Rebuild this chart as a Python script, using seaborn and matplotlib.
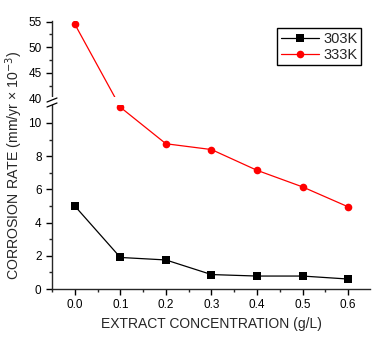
import numpy as np
import pandas as pd
import seaborn as sns
import matplotlib.pyplot as plt
from matplotlib.lines import Line2D
from matplotlib.ticker import MultipleLocator, FixedLocator

conc = [0.0, 0.1, 0.2, 0.3, 0.4, 0.5, 0.6]
rate_303 = [5.0, 1.9, 1.75, 0.87, 0.78, 0.78, 0.6]
rate_333 = [54.5, 10.95, 8.75, 8.4, 7.15, 6.15, 4.95]

df = pd.DataFrame({
    'conc': conc * 2,
    'rate': rate_303 + rate_333,
    'temp': ['303K'] * len(conc) + ['333K'] * len(conc),
})

# broken y axis: 0..Y1 below the break, Y2..top above, upper part squeezed
Y1, Y2 = 11.07, 39.7
G = 11.37      # where the upper part starts in scaled units
K = 0.31       # squeeze of the upper part


def fwd(y):
    y = np.asarray(y, dtype=float)
    mid = Y1 + (y - Y1) * (G - Y1) / (Y2 - Y1)
    return np.where(y <= Y1, y, np.where(y >= Y2, G + (y - Y2) * K, mid))


def inv(v):
    v = np.asarray(v, dtype=float)
    mid = Y1 + (v - Y1) * (Y2 - Y1) / (G - Y1)
    return np.where(v <= Y1, v, np.where(v >= G, Y2 + (v - G) / K, mid))


sns.set_style("ticks")
plt.rcParams['font.family'] = ['Liberation Sans', 'DejaVu Sans']

colors = {'303K': 'black', '333K': 'red'}
markers = {'303K': 's', '333K': 'o'}

W, H = 384, 340
fig = plt.figure(figsize=(W / 100, H / 100), dpi=100)
left, right = 52 / W, 370 / W
ax = fig.add_axes([left, 1 - 289 / H, right - left, (289 - 21) / H])
ax.set_yscale('function', functions=(fwd, inv))

sns.lineplot(data=df, x='conc', y='rate', hue='temp', style='temp',
             palette=colors, markers=markers, dashes=False,
             markersize=5.5, markeredgewidth=0, linewidth=0.9, ax=ax)

ax.set_xlim(-0.05, 0.648)
ax.set_ylim(0, 55.1)
ax.spines['right'].set_visible(False)
ax.spines['top'].set_visible(False)
for s in ax.spines.values():
    s.set_linewidth(1.0)

ax.xaxis.set_major_locator(MultipleLocator(0.1))
ax.xaxis.set_minor_locator(MultipleLocator(0.05))
ax.xaxis.set_major_formatter(plt.FuncFormatter(lambda v, p: '%.1f' % v))
ax.yaxis.set_major_locator(FixedLocator([0, 2, 4, 6, 8, 10, 40, 45, 50, 55]))
ax.yaxis.set_minor_locator(FixedLocator([1, 3, 5, 7, 9, 42.5, 47.5, 52.5]))
ax.yaxis.set_major_formatter(plt.FuncFormatter(lambda v, p: '%g' % v))
ax.tick_params(which='major', length=4, width=1, labelsize=8.5, colors='black',
               direction='out')
ax.tick_params(which='minor', length=2.5, width=1, direction='out')

# hide the gap, then draw the break marks
ax.axhspan(Y1, Y2 + 0.6, xmin=-0.03, xmax=1, color='white', zorder=2.6,
           clip_on=False, lw=0)
for yp in (100, 105):
    fig.add_artist(Line2D([(left * W - 5) / W, (left * W + 5) / W],
                          [1 - (yp + 2) / H, 1 - (yp - 2) / H],
                          color='black', lw=0.9))

ax.set_xlabel('EXTRACT CONCENTRATION (g/L)', fontsize=10, labelpad=4)
ax.set_ylabel('')
fig.text(14 / W, 1 - 165 / H, 'CORROSION RATE (mm/yr \u00d7 10$^{-3}$)',
         rotation=90, va='center', ha='center', fontsize=10.2)

sns.move_legend(ax, 'upper right', bbox_to_anchor=(361 / W, 1 - 28 / H),
                bbox_transform=fig.transFigure, title=None, fontsize=10.5,
                frameon=True, fancybox=False, edgecolor='black',
                handlelength=2.6, borderpad=0.25, labelspacing=0.15,
                handletextpad=0.3, borderaxespad=0, framealpha=1)
ax.get_legend().get_frame().set_linewidth(1.0)

fig.savefig('out.png', dpi=100)
